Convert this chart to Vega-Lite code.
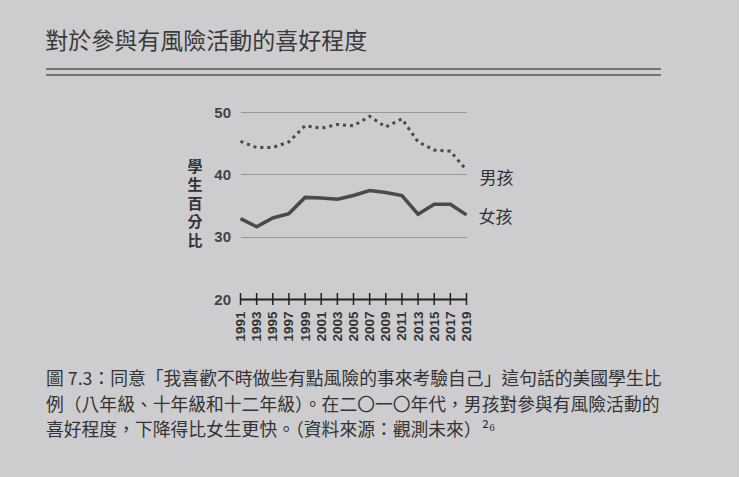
{
  "$schema": "https://vega.github.io/schema/vega-lite/v6.json",
  "background": "#cdcdcf",
  "padding": {"top": 31, "left": 45, "right": 77, "bottom": 39},
  "config": {
    "view": {"stroke": null},
    "font": "Noto Sans CJK TC"
  },
  "datasets": {
    "series": [
      {"year": 1991, "group": "男孩", "value": 45.3},
      {"year": 1993, "group": "男孩", "value": 44.3},
      {"year": 1995, "group": "男孩", "value": 44.3},
      {"year": 1997, "group": "男孩", "value": 45.2},
      {"year": 1999, "group": "男孩", "value": 47.8},
      {"year": 2001, "group": "男孩", "value": 47.4},
      {"year": 2003, "group": "男孩", "value": 48.0},
      {"year": 2005, "group": "男孩", "value": 47.8},
      {"year": 2007, "group": "男孩", "value": 49.3},
      {"year": 2009, "group": "男孩", "value": 47.6},
      {"year": 2011, "group": "男孩", "value": 48.9},
      {"year": 2013, "group": "男孩", "value": 45.2},
      {"year": 2015, "group": "男孩", "value": 43.9},
      {"year": 2017, "group": "男孩", "value": 43.7},
      {"year": 2019, "group": "男孩", "value": 40.7},
      {"year": 1991, "group": "女孩", "value": 32.9},
      {"year": 1993, "group": "女孩", "value": 31.6},
      {"year": 1995, "group": "女孩", "value": 33.0},
      {"year": 1997, "group": "女孩", "value": 33.7},
      {"year": 1999, "group": "女孩", "value": 36.3},
      {"year": 2001, "group": "女孩", "value": 36.2},
      {"year": 2003, "group": "女孩", "value": 36.0},
      {"year": 2005, "group": "女孩", "value": 36.6},
      {"year": 2007, "group": "女孩", "value": 37.4},
      {"year": 2009, "group": "女孩", "value": 37.1},
      {"year": 2011, "group": "女孩", "value": 36.6},
      {"year": 2013, "group": "女孩", "value": 33.6},
      {"year": 2015, "group": "女孩", "value": 35.2},
      {"year": 2017, "group": "女孩", "value": 35.2},
      {"year": 2019, "group": "女孩", "value": 33.5}
    ]
  },
  "vconcat": [
    {
      "width": 615,
      "height": 6,
      "title": {
        "text": "對於參與有風險活動的喜好程度",
        "anchor": "start",
        "fontSize": 23,
        "fontWeight": "normal",
        "color": "#3a3a3a",
        "offset": 14
      },
      "data": {"values": [{"a": 1}]},
      "layer": [
        {
          "mark": {"type": "rule", "color": "#555555", "strokeWidth": 1.5},
          "encoding": {"y": {"datum": 1, "type": "quantitative", "scale": {"domain": [0, 1]}, "axis": null}}
        },
        {
          "mark": {"type": "rule", "color": "#555555", "strokeWidth": 1.5},
          "encoding": {"y": {"datum": 0, "type": "quantitative", "scale": {"domain": [0, 1]}, "axis": null}}
        }
      ]
    },
    {
      "width": 226,
      "height": 187,
      "data": {"name": "series"},
      "encoding": {
        "x": {
          "field": "year",
          "type": "quantitative",
          "scale": {"domain": [1991, 2019], "nice": false, "zero": false},
          "axis": {
            "title": null,
            "values": [1991, 1993, 1995, 1997, 1999, 2001, 2003, 2005, 2007, 2009, 2011, 2013, 2015, 2017, 2019],
            "format": "d",
            "labelAngle": 270,
            "labelFont": "Liberation Sans",
            "labelFontWeight": "bold",
            "labelFontSize": 13.5,
            "labelColor": "#333333",
            "labelPadding": 12,
            "labelOverlap": false,
            "labelFlush": false,
            "ticks": false,
            "grid": false,
            "domainColor": "#222222",
            "domainWidth": 2
          }
        },
        "y": {
          "field": "value",
          "type": "quantitative",
          "scale": {"domain": [20, 50], "nice": false, "zero": false},
          "axis": {
            "values": [20, 30, 40, 50],
            "title": ["學", "生", "百", "分", "比"],
            "titleAngle": 0,
            "titleAlign": "center",
            "titleBaseline": "middle",
            "titleX": -46,
            "titleY": 54,
            "titleFontSize": 15,
            "titleFontWeight": "bold",
            "titleLineHeight": 18.5,
            "titleColor": "#333333",
            "labelFont": "Liberation Sans",
            "labelFontWeight": "bold",
            "labelFontSize": 15,
            "labelColor": "#444444",
            "labelPadding": 10,
            "domain": false,
            "ticks": false,
            "grid": true,
            "gridColor": "#999999",
            "gridWidth": 1
          }
        }
      },
      "layer": [
        {
          "transform": [{"filter": "datum.group === '男孩'"}],
          "mark": {"type": "line", "color": "#4a4a4a", "strokeWidth": 3, "strokeDash": [3, 4]}
        },
        {
          "transform": [{"filter": "datum.group === '女孩'"}],
          "mark": {"type": "line", "color": "#4a4a4a", "strokeWidth": 3.5}
        },
        {
          "transform": [{"filter": "datum.group === '女孩'"}],
          "mark": {"type": "tick", "orient": "vertical", "size": 12, "thickness": 1.5, "color": "#222222", "opacity": 1},
          "encoding": {"y": {"datum": 20, "type": "quantitative"}}
        },
        {
          "transform": [{"filter": "datum.group === '男孩' && datum.year === 2019"}],
          "mark": {"type": "text", "align": "left", "baseline": "middle", "dx": 13, "dy": 9, "fontSize": 17, "color": "#333333"},
          "encoding": {"text": {"field": "group"}}
        },
        {
          "transform": [{"filter": "datum.group === '女孩' && datum.year === 2019"}],
          "mark": {"type": "text", "align": "left", "baseline": "middle", "dx": 12, "dy": 3, "fontSize": 17, "color": "#333333"},
          "encoding": {"text": {"field": "group"}}
        }
      ]
    },
    {
      "width": 615,
      "height": 1,
      "title": {
        "text": [
          "圖 7.3：同意「我喜歡不時做些有點風險的事來考驗自己」這句話的美國學生比",
          "例（八年級、十年級和十二年級）。在二〇一〇年代，男孩對參與有風險活動的",
          "喜好程度，下降得比女生更快。（資料來源：觀測未來）²⁶"
        ],
        "orient": "bottom",
        "anchor": "start",
        "fontSize": 17.8,
        "fontWeight": "normal",
        "color": "#333333",
        "lineHeight": 25.5,
        "offset": 34
      },
      "data": {"values": [{"a": 1}]},
      "mark": {"type": "rule", "opacity": 0},
      "encoding": {"y": {"datum": 0, "type": "quantitative", "axis": null}}
    }
  ],
  "spacing": 37,
  "center": true,
  "bounds": "flush"
}
